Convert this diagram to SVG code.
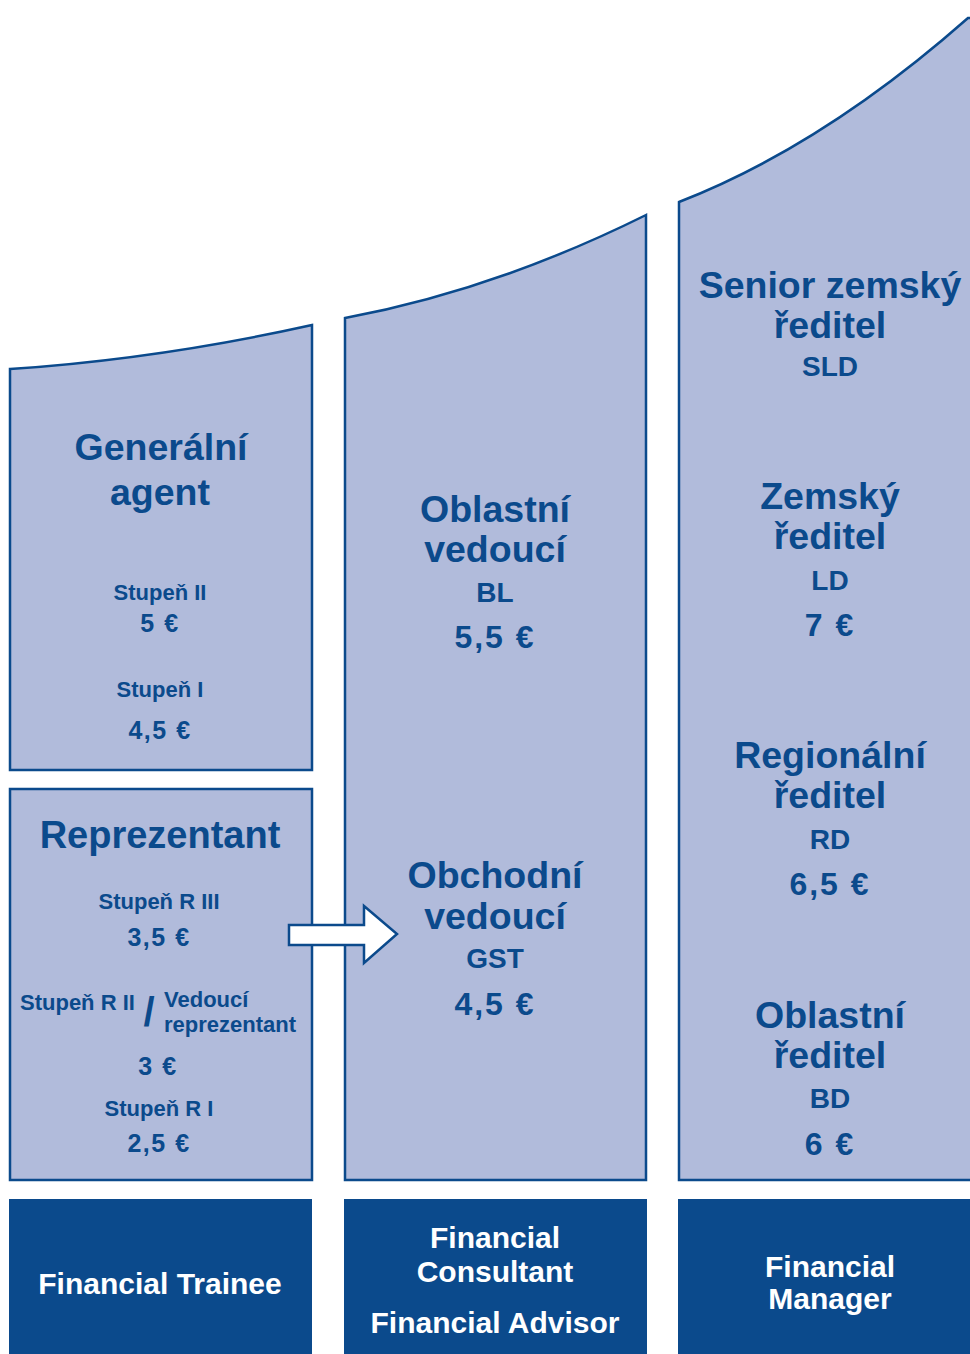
<svg xmlns="http://www.w3.org/2000/svg" width="970" height="1354" viewBox="0 0 970 1354">
<style>
.col{fill:#b1bbdb;stroke:#0b4a8c;stroke-width:2.5;stroke-linejoin:miter}
.foot{fill:#0b4a8c}
text{font-family:"Liberation Sans",Arial,sans-serif;font-weight:bold;fill:#0b4a8c;text-anchor:middle}
.t{font-size:37.5px}
.s{font-size:22px}
.p{font-size:25px;letter-spacing:1.5px}
.a{font-size:28px}
.bp{font-size:32px;letter-spacing:2px}
.w{fill:#ffffff;font-size:30px}
</style>
<rect width="970" height="1354" fill="#ffffff"/>

<g id="generalni-agent">
<path class="col" d="M10,369 Q159,359 312,325 L312,770 L10,770 Z"/>
<text class="t" x="161" y="460">Generální</text>
<text class="t" x="160" y="505">agent</text>
<text class="s" x="160" y="600">Stupeň II</text>
<text class="p" x="160" y="632">5 €</text>
<text class="s" x="160" y="697">Stupeň I</text>
<text class="p" x="160" y="739">4,5 €</text>
</g>

<g id="reprezentant">
<rect class="col" x="10" y="789" width="302" height="391"/>
<text class="t" x="160" y="848" style="font-size:38px">Reprezentant</text>
<text class="s" x="159" y="909">Stupeň R III</text>
<text class="p" x="159" y="946">3,5 €</text>
<text class="s" x="20" y="1010" style="text-anchor:start">Stupeň R II</text>
<text x="149" y="1026" style="font-size:40px">/</text>
<text class="s" x="164" y="1007" style="text-anchor:start">Vedoucí</text>
<text class="s" x="164" y="1032" style="text-anchor:start">reprezentant</text>
<text class="p" x="158" y="1075">3 €</text>
<text class="s" x="159" y="1116">Stupeň R I</text>
<text class="p" x="159" y="1152">2,5 €</text>
</g>

<g id="stredni-sloupec">
<path class="col" d="M345,318 Q495,290 646,215 L646,1180 L345,1180 Z"/>
</g>
<g id="oblastni-vedouci">
<text class="t" x="495" y="522">Oblastní</text>
<text class="t" x="495" y="562">vedoucí</text>
<text class="a" x="495" y="602">BL</text>
<text class="bp" x="495" y="648">5,5 €</text>
</g>
<g id="obchodni-vedouci">
<text class="t" x="495" y="888">Obchodní</text>
<text class="t" x="495" y="929">vedoucí</text>
<text class="a" x="495" y="968">GST</text>
<text class="bp" x="495" y="1015">4,5 €</text>
</g>

<g id="pravy-sloupec">
<path class="col" d="M679,202 Q823,146 968,18 L975,18 L975,1180 L679,1180 Z"/>
</g>
<g id="senior-zemsky-reditel">
<text class="t" x="830" y="298">Senior zemský</text>
<text class="t" x="830" y="338">ředitel</text>
<text class="a" x="830" y="376">SLD</text>
</g>
<g id="zemsky-reditel">
<text class="t" x="830" y="509">Zemský</text>
<text class="t" x="830" y="549">ředitel</text>
<text class="a" x="830" y="590">LD</text>
<text class="bp" x="830" y="636">7 €</text>
</g>
<g id="regionalni-reditel">
<text class="t" x="830" y="768">Regionální</text>
<text class="t" x="830" y="808">ředitel</text>
<text class="a" x="830" y="849">RD</text>
<text class="bp" x="830" y="895">6,5 €</text>
</g>
<g id="oblastni-reditel">
<text class="t" x="830" y="1028">Oblastní</text>
<text class="t" x="830" y="1068">ředitel</text>
<text class="a" x="830" y="1108">BD</text>
<text class="bp" x="830" y="1155">6 €</text>
</g>

<g id="financial-trainee">
<rect class="foot" x="9" y="1199" width="303" height="160"/>
<text class="w" x="160" y="1294">Financial Trainee</text>
</g>
<g id="financial-consultant">
<rect class="foot" x="344" y="1199" width="303" height="160"/>
<text class="w" x="495" y="1248">Financial</text>
<text class="w" x="495" y="1282">Consultant</text>
<text class="w" x="495" y="1333">Financial Advisor</text>
</g>
<g id="financial-manager">
<rect class="foot" x="678" y="1199" width="300" height="160"/>
<text class="w" x="830" y="1277">Financial</text>
<text class="w" x="830" y="1309">Manager</text>
</g>

<g id="connectors">
<polygon points="289,925 364,925 364,906 397,934 364,963 364,945 289,945" fill="#ffffff" stroke="#0b4a8c" stroke-width="2.5" stroke-linejoin="miter"/>
</g>
</svg>
